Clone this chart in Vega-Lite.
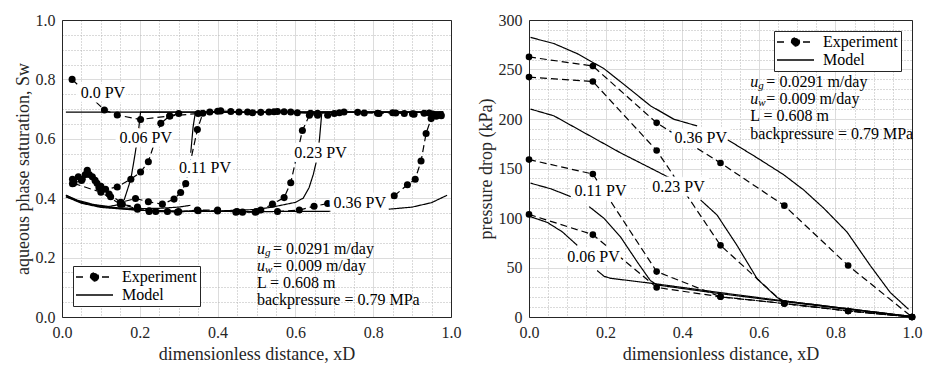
{
"$schema":"https://vega.github.io/schema/vega-lite/v6.json",
"padding":{"left":13,"top":11,"right":5,"bottom":5},
"spacing":14,
"config":{
 "font":"Liberation Serif",
 "view":{"stroke":"#262626","strokeWidth":1},
 "axis":{"labelFont":"Liberation Serif","labelFontSize":16,"labelColor":"#262626","titleFont":"Liberation Serif","titleFontSize":18,"titleFontWeight":"normal","titleColor":"#262626","domain":false,"ticks":false,"labelPadding":7,"labelFlush":false,"gridWidth":1,"gridOpacity":1,"domainColor":"#262626","domainWidth":1},
 "axisY":{"titlePadding":3},
 "axisX":{"titlePadding":5}
},
"resolve":{"scale":{"strokeDash":"independent"},"legend":{"strokeDash":"independent"}},
"datasets":{
"satLines":[
{"t":"Model","pv":"0.0","x":0.01,"y":0.69},{"t":"Model","pv":"0.0","x":0.98,"y":0.69},
{"t":"Model","pv":"0.06","x":0.01,"y":0.41},{"t":"Model","pv":"0.06","x":0.04,"y":0.393},{"t":"Model","pv":"0.06","x":0.08,"y":0.379},{"t":"Model","pv":"0.06","x":0.12,"y":0.372},{"t":"Model","pv":"0.06","x":0.145,"y":0.378},{"t":"Model","pv":"0.06","x":0.16,"y":0.395},{"t":"Model","pv":"0.06","x":0.177,"y":0.464},{"t":"Model","pv":"0.06","x":0.188,"y":0.55},{"t":"Model","pv":"0.06","x":0.196,"y":0.62},{"t":"Model","pv":"0.06","x":0.202,"y":0.69},{"t":"Model","pv":"0.06","x":0.98,"y":0.69},
{"t":"Model","pv":"0.11","s":1,"x":0.01,"y":0.405},{"t":"Model","pv":"0.11","s":1,"x":0.05,"y":0.386},{"t":"Model","pv":"0.11","s":1,"x":0.1,"y":0.373},{"t":"Model","pv":"0.11","s":1,"x":0.15,"y":0.367},{"t":"Model","pv":"0.11","s":1,"x":0.2,"y":0.365},{"t":"Model","pv":"0.11","s":1,"x":0.25,"y":0.366},{"t":"Model","pv":"0.11","s":1,"x":0.3,"y":0.37},{"t":"Model","pv":"0.11","s":1,"x":0.33,"y":0.376},
{"t":"Model","pv":"0.11","s":2,"x":0.331,"y":0.553},{"t":"Model","pv":"0.11","s":2,"x":0.337,"y":0.64},{"t":"Model","pv":"0.11","s":2,"x":0.343,"y":0.69},{"t":"Model","pv":"0.11","s":2,"x":0.98,"y":0.69},
{"t":"Model","pv":"0.23","x":0.01,"y":0.405},{"t":"Model","pv":"0.23","x":0.05,"y":0.383},{"t":"Model","pv":"0.23","x":0.1,"y":0.369},{"t":"Model","pv":"0.23","x":0.2,"y":0.359},{"t":"Model","pv":"0.23","x":0.3,"y":0.356},{"t":"Model","pv":"0.23","x":0.4,"y":0.357},{"t":"Model","pv":"0.23","x":0.5,"y":0.362},{"t":"Model","pv":"0.23","x":0.54,"y":0.37},{"t":"Model","pv":"0.23","x":0.6,"y":0.386},{"t":"Model","pv":"0.23","x":0.62,"y":0.4},{"t":"Model","pv":"0.23","x":0.635,"y":0.435},{"t":"Model","pv":"0.23","x":0.646,"y":0.48},{"t":"Model","pv":"0.23","x":0.655,"y":0.53},{"t":"Model","pv":"0.23","x":0.662,"y":0.6},{"t":"Model","pv":"0.23","x":0.668,"y":0.69},{"t":"Model","pv":"0.23","x":0.98,"y":0.69},
{"t":"Model","pv":"0.36","s":1,"x":0.01,"y":0.41},{"t":"Model","pv":"0.36","s":1,"x":0.05,"y":0.385},{"t":"Model","pv":"0.36","s":1,"x":0.1,"y":0.371},{"t":"Model","pv":"0.36","s":1,"x":0.2,"y":0.36},{"t":"Model","pv":"0.36","s":1,"x":0.3,"y":0.356},{"t":"Model","pv":"0.36","s":1,"x":0.5,"y":0.355},{"t":"Model","pv":"0.36","s":1,"x":0.69,"y":0.356},
{"t":"Model","pv":"0.36","s":2,"x":0.84,"y":0.363},{"t":"Model","pv":"0.36","s":2,"x":0.9,"y":0.37},{"t":"Model","pv":"0.36","s":2,"x":0.95,"y":0.385},{"t":"Model","pv":"0.36","s":2,"x":0.99,"y":0.41},
{"t":"Experiment","pv":"0.0","x":0.026,"y":0.8},{"t":"Experiment","pv":"0.0","x":0.109,"y":0.697},{"t":"Experiment","pv":"0.0","x":0.142,"y":0.68},{"t":"Experiment","pv":"0.0","x":0.202,"y":0.665},{"t":"Experiment","pv":"0.0","x":0.277,"y":0.677},{"t":"Experiment","pv":"0.0","x":0.35,"y":0.685},{"t":"Experiment","pv":"0.0","x":0.4,"y":0.693},{"t":"Experiment","pv":"0.0","x":0.408,"y":0.694},{"t":"Experiment","pv":"0.0","x":0.434,"y":0.692},{"t":"Experiment","pv":"0.0","x":0.455,"y":0.69},{"t":"Experiment","pv":"0.0","x":0.477,"y":0.69},{"t":"Experiment","pv":"0.0","x":0.49,"y":0.688},{"t":"Experiment","pv":"0.0","x":0.511,"y":0.689},{"t":"Experiment","pv":"0.0","x":0.532,"y":0.69},{"t":"Experiment","pv":"0.0","x":0.545,"y":0.691},{"t":"Experiment","pv":"0.0","x":0.554,"y":0.692},{"t":"Experiment","pv":"0.0","x":0.571,"y":0.691},{"t":"Experiment","pv":"0.0","x":0.588,"y":0.69},{"t":"Experiment","pv":"0.0","x":0.605,"y":0.688},{"t":"Experiment","pv":"0.0","x":0.639,"y":0.686},{"t":"Experiment","pv":"0.0","x":0.657,"y":0.686},{"t":"Experiment","pv":"0.0","x":0.713,"y":0.688},{"t":"Experiment","pv":"0.0","x":0.725,"y":0.69},{"t":"Experiment","pv":"0.0","x":0.76,"y":0.689},{"t":"Experiment","pv":"0.0","x":0.777,"y":0.687},{"t":"Experiment","pv":"0.0","x":0.811,"y":0.686},{"t":"Experiment","pv":"0.0","x":0.815,"y":0.685},{"t":"Experiment","pv":"0.0","x":0.85,"y":0.688},{"t":"Experiment","pv":"0.0","x":0.858,"y":0.687},{"t":"Experiment","pv":"0.0","x":0.88,"y":0.685},{"t":"Experiment","pv":"0.0","x":0.901,"y":0.684},{"t":"Experiment","pv":"0.0","x":0.905,"y":0.683},{"t":"Experiment","pv":"0.0","x":0.931,"y":0.686},{"t":"Experiment","pv":"0.0","x":0.944,"y":0.687},{"t":"Experiment","pv":"0.0","x":0.953,"y":0.683},{"t":"Experiment","pv":"0.0","x":0.974,"y":0.68},
{"t":"Experiment","pv":"0.06","x":0.027,"y":0.464},{"t":"Experiment","pv":"0.06","x":0.042,"y":0.472},{"t":"Experiment","pv":"0.06","x":0.052,"y":0.464},{"t":"Experiment","pv":"0.06","x":0.065,"y":0.494},{"t":"Experiment","pv":"0.06","x":0.078,"y":0.472},{"t":"Experiment","pv":"0.06","x":0.095,"y":0.436},{"t":"Experiment","pv":"0.06","x":0.112,"y":0.43},{"t":"Experiment","pv":"0.06","x":0.142,"y":0.438},{"t":"Experiment","pv":"0.06","x":0.177,"y":0.464},{"t":"Experiment","pv":"0.06","x":0.202,"y":0.488},{"t":"Experiment","pv":"0.06","x":0.222,"y":0.523},{"t":"Experiment","pv":"0.06","x":0.254,"y":0.652},{"t":"Experiment","pv":"0.06","x":0.277,"y":0.677},{"t":"Experiment","pv":"0.06","x":0.3,"y":0.685},
{"t":"Experiment","pv":"0.11","x":0.027,"y":0.449},{"t":"Experiment","pv":"0.11","x":0.05,"y":0.46},{"t":"Experiment","pv":"0.11","x":0.07,"y":0.48},{"t":"Experiment","pv":"0.11","x":0.085,"y":0.46},{"t":"Experiment","pv":"0.11","x":0.1,"y":0.44},{"t":"Experiment","pv":"0.11","x":0.121,"y":0.414},{"t":"Experiment","pv":"0.11","x":0.151,"y":0.386},{"t":"Experiment","pv":"0.11","x":0.189,"y":0.399},{"t":"Experiment","pv":"0.11","x":0.222,"y":0.388},{"t":"Experiment","pv":"0.11","x":0.258,"y":0.38},{"t":"Experiment","pv":"0.11","x":0.288,"y":0.397},{"t":"Experiment","pv":"0.11","x":0.305,"y":0.419},{"t":"Experiment","pv":"0.11","x":0.318,"y":0.449},{"t":"Experiment","pv":"0.11","x":0.348,"y":0.631},{"t":"Experiment","pv":"0.11","x":0.362,"y":0.686},{"t":"Experiment","pv":"0.11","x":0.38,"y":0.69},
{"t":"Experiment","pv":"0.23","x":0.03,"y":0.455},{"t":"Experiment","pv":"0.23","x":0.06,"y":0.48},{"t":"Experiment","pv":"0.23","x":0.09,"y":0.45},{"t":"Experiment","pv":"0.23","x":0.125,"y":0.405},{"t":"Experiment","pv":"0.23","x":0.155,"y":0.38},{"t":"Experiment","pv":"0.23","x":0.194,"y":0.363},{"t":"Experiment","pv":"0.23","x":0.224,"y":0.355},{"t":"Experiment","pv":"0.23","x":0.241,"y":0.355},{"t":"Experiment","pv":"0.23","x":0.271,"y":0.355},{"t":"Experiment","pv":"0.23","x":0.297,"y":0.353},{"t":"Experiment","pv":"0.23","x":0.348,"y":0.36},{"t":"Experiment","pv":"0.23","x":0.4,"y":0.36},{"t":"Experiment","pv":"0.23","x":0.447,"y":0.353},{"t":"Experiment","pv":"0.23","x":0.464,"y":0.353},{"t":"Experiment","pv":"0.23","x":0.497,"y":0.353},{"t":"Experiment","pv":"0.23","x":0.511,"y":0.36},{"t":"Experiment","pv":"0.23","x":0.541,"y":0.38},{"t":"Experiment","pv":"0.23","x":0.571,"y":0.402},{"t":"Experiment","pv":"0.23","x":0.588,"y":0.452},{"t":"Experiment","pv":"0.23","x":0.618,"y":0.628},{"t":"Experiment","pv":"0.23","x":0.636,"y":0.679},{"t":"Experiment","pv":"0.23","x":0.657,"y":0.679},{"t":"Experiment","pv":"0.23","x":0.683,"y":0.679},{"t":"Experiment","pv":"0.23","x":0.7,"y":0.685},
{"t":"Experiment","pv":"0.36","s":1,"x":0.03,"y":0.45},{"t":"Experiment","pv":"0.36","s":1,"x":0.1,"y":0.42},{"t":"Experiment","pv":"0.36","s":1,"x":0.15,"y":0.38},{"t":"Experiment","pv":"0.36","s":1,"x":0.194,"y":0.37},{"t":"Experiment","pv":"0.36","s":1,"x":0.224,"y":0.358},{"t":"Experiment","pv":"0.36","s":1,"x":0.3,"y":0.355},{"t":"Experiment","pv":"0.36","s":1,"x":0.35,"y":0.358},{"t":"Experiment","pv":"0.36","s":1,"x":0.4,"y":0.357},{"t":"Experiment","pv":"0.36","s":1,"x":0.45,"y":0.355},{"t":"Experiment","pv":"0.36","s":1,"x":0.5,"y":0.355},{"t":"Experiment","pv":"0.36","s":1,"x":0.554,"y":0.355},{"t":"Experiment","pv":"0.36","s":1,"x":0.61,"y":0.36},{"t":"Experiment","pv":"0.36","s":1,"x":0.648,"y":0.373},{"t":"Experiment","pv":"0.36","s":1,"x":0.683,"y":0.382},
{"t":"Experiment","pv":"0.36","s":2,"x":0.854,"y":0.408},{"t":"Experiment","pv":"0.36","s":2,"x":0.888,"y":0.445},{"t":"Experiment","pv":"0.36","s":2,"x":0.908,"y":0.464},{"t":"Experiment","pv":"0.36","s":2,"x":0.923,"y":0.525},{"t":"Experiment","pv":"0.36","s":2,"x":0.936,"y":0.618},{"t":"Experiment","pv":"0.36","s":2,"x":0.949,"y":0.668},{"t":"Experiment","pv":"0.36","s":2,"x":0.962,"y":0.676},{"t":"Experiment","pv":"0.36","s":2,"x":0.975,"y":0.678}
],
"satLabels":[
{"x":0.048,"y":0.754,"text":"0.0 PV"},{"x":0.148,"y":0.603,"text":"0.06 PV"},{"x":0.301,"y":0.503,"text":"0.11 PV"},{"x":0.597,"y":0.553,"text":"0.23 PV"},{"x":0.698,"y":0.385,"text":"0.36 PV"}
],
"satParams":[
{"x":0.501,"y":0.229,"kind":"sym","text":"u"},{"x":0.501,"y":0.229,"kind":"sub","text":"g"},{"x":0.501,"y":0.229,"kind":"main","text":"= 0.0291 m/day"},
{"x":0.501,"y":0.171,"kind":"sym","text":"u"},{"x":0.501,"y":0.171,"kind":"sub","text":"w"},{"x":0.501,"y":0.171,"kind":"main","text":"= 0.009 m/day"},
{"x":0.501,"y":0.114,"kind":"plain","text":"L = 0.608 m"},{"x":0.501,"y":0.058,"kind":"plain","text":"backpressure = 0.79 MPa"}
],
"presLines":[
{"t":"Experiment","pv":"0.06","x":0,"y":103.6},{"t":"Experiment","pv":"0.06","x":0.1667,"y":83.2},{"t":"Experiment","pv":"0.06","x":0.3333,"y":29.9},{"t":"Experiment","pv":"0.06","x":0.5,"y":20.4},{"t":"Experiment","pv":"0.06","x":0.6667,"y":13.6},{"t":"Experiment","pv":"0.06","x":0.8333,"y":6.1},{"t":"Experiment","pv":"0.06","x":1,"y":0},
{"t":"Experiment","pv":"0.11","x":0,"y":159},{"t":"Experiment","pv":"0.11","x":0.1667,"y":144.4},{"t":"Experiment","pv":"0.11","x":0.3333,"y":45.9},{"t":"Experiment","pv":"0.11","x":0.5,"y":20.4},{"t":"Experiment","pv":"0.11","x":0.6667,"y":13.6},{"t":"Experiment","pv":"0.11","x":0.8333,"y":6.1},{"t":"Experiment","pv":"0.11","x":1,"y":0},
{"t":"Experiment","pv":"0.23","x":0,"y":242.3},{"t":"Experiment","pv":"0.23","x":0.1667,"y":237.9},{"t":"Experiment","pv":"0.23","x":0.3333,"y":168.2},{"t":"Experiment","pv":"0.23","x":0.5,"y":72.4},{"t":"Experiment","pv":"0.23","x":0.6667,"y":13.6},{"t":"Experiment","pv":"0.23","x":0.8333,"y":6.1},{"t":"Experiment","pv":"0.23","x":1,"y":0},
{"t":"Experiment","pv":"0.36","x":0,"y":262.7},{"t":"Experiment","pv":"0.36","x":0.1667,"y":253.5},{"t":"Experiment","pv":"0.36","x":0.3333,"y":196.1},{"t":"Experiment","pv":"0.36","x":0.5,"y":155.6},{"t":"Experiment","pv":"0.36","x":0.6667,"y":112.5},{"t":"Experiment","pv":"0.36","x":0.8333,"y":52},{"t":"Experiment","pv":"0.36","x":1,"y":0},
{"t":"Model","pv":"0.06","s":1,"x":0.004,"y":101.3},{"t":"Model","pv":"0.06","s":1,"x":0.048,"y":95.5},{"t":"Model","pv":"0.06","s":1,"x":0.087,"y":86},{"t":"Model","pv":"0.06","s":1,"x":0.126,"y":72.4},
{"t":"Model","pv":"0.06","s":2,"x":0.178,"y":46.9},{"t":"Model","pv":"0.06","s":2,"x":0.196,"y":41.1},{"t":"Model","pv":"0.06","s":2,"x":0.213,"y":39.1},{"t":"Model","pv":"0.06","s":2,"x":0.335,"y":33.3},{"t":"Model","pv":"0.06","s":2,"x":0.5,"y":24.6},{"t":"Model","pv":"0.06","s":2,"x":0.665,"y":16.3},{"t":"Model","pv":"0.06","s":2,"x":0.83,"y":8.5},{"t":"Model","pv":"0.06","s":2,"x":1,"y":0.5},
{"t":"Model","pv":"0.11","s":1,"x":0.004,"y":135.2},{"t":"Model","pv":"0.11","s":1,"x":0.057,"y":129.5},{"t":"Model","pv":"0.11","s":1,"x":0.109,"y":121.6},
{"t":"Model","pv":"0.11","s":2,"x":0.157,"y":111.5},{"t":"Model","pv":"0.11","s":2,"x":0.196,"y":99.6},{"t":"Model","pv":"0.11","s":2,"x":0.239,"y":80.9},{"t":"Model","pv":"0.11","s":2,"x":0.283,"y":55.4},{"t":"Model","pv":"0.11","s":2,"x":0.317,"y":36.7},{"t":"Model","pv":"0.11","s":2,"x":0.335,"y":32.3},{"t":"Model","pv":"0.11","s":2,"x":0.5,"y":23.5},{"t":"Model","pv":"0.11","s":2,"x":0.665,"y":15.6},{"t":"Model","pv":"0.11","s":2,"x":0.83,"y":7.8},{"t":"Model","pv":"0.11","s":2,"x":1,"y":0.3},
{"t":"Model","pv":"0.23","s":1,"x":0.004,"y":210},{"t":"Model","pv":"0.23","s":1,"x":0.065,"y":203.2},{"t":"Model","pv":"0.23","s":1,"x":0.152,"y":184.5},{"t":"Model","pv":"0.23","s":1,"x":0.239,"y":165.8},{"t":"Model","pv":"0.23","s":1,"x":0.317,"y":150.5},{"t":"Model","pv":"0.23","s":1,"x":0.37,"y":140},
{"t":"Model","pv":"0.23","s":2,"x":0.448,"y":118.2},{"t":"Model","pv":"0.23","s":2,"x":0.491,"y":103},{"t":"Model","pv":"0.23","s":2,"x":0.543,"y":72.4},{"t":"Model","pv":"0.23","s":2,"x":0.596,"y":38.4},{"t":"Model","pv":"0.23","s":2,"x":0.648,"y":19.7},{"t":"Model","pv":"0.23","s":2,"x":0.665,"y":16.3},{"t":"Model","pv":"0.23","s":2,"x":0.83,"y":8.5},{"t":"Model","pv":"0.23","s":2,"x":1,"y":0.5},
{"t":"Model","pv":"0.36","s":1,"x":0.004,"y":282.4},{"t":"Model","pv":"0.36","s":1,"x":0.065,"y":276.2},{"t":"Model","pv":"0.36","s":1,"x":0.126,"y":266},{"t":"Model","pv":"0.36","s":1,"x":0.196,"y":250.8},{"t":"Model","pv":"0.36","s":1,"x":0.257,"y":232.1},{"t":"Model","pv":"0.36","s":1,"x":0.317,"y":213.4},{"t":"Model","pv":"0.36","s":1,"x":0.378,"y":199.8},{"t":"Model","pv":"0.36","s":1,"x":0.439,"y":193},
{"t":"Model","pv":"0.36","s":2,"x":0.517,"y":179.4},{"t":"Model","pv":"0.36","s":2,"x":0.596,"y":160.7},{"t":"Model","pv":"0.36","s":2,"x":0.665,"y":143.7},{"t":"Model","pv":"0.36","s":2,"x":0.717,"y":128.4},{"t":"Model","pv":"0.36","s":2,"x":0.77,"y":109.7},{"t":"Model","pv":"0.36","s":2,"x":0.83,"y":86},{"t":"Model","pv":"0.36","s":2,"x":0.891,"y":52},{"t":"Model","pv":"0.36","s":2,"x":0.943,"y":24.8},{"t":"Model","pv":"0.36","s":2,"x":0.991,"y":7.8}
],
"presLabels":[
{"x":0.38,"y":181,"text":"0.36 PV"},{"x":0.322,"y":131,"text":"0.23 PV"},{"x":0.119,"y":127,"text":"0.11 PV"},{"x":0.1,"y":61,"text":"0.06 PV"}
],
"presParams":[
{"x":0.578,"y":237.2,"kind":"sym","text":"u"},{"x":0.578,"y":237.2,"kind":"sub","text":"g"},{"x":0.578,"y":237.2,"kind":"main","text":"= 0.0291 m/day"},
{"x":0.578,"y":220.2,"kind":"sym","text":"u"},{"x":0.578,"y":220.2,"kind":"sub","text":"w"},{"x":0.578,"y":220.2,"kind":"main","text":"= 0.009 m/day"},
{"x":0.578,"y":203.2,"kind":"plain","text":"L = 0.608 m"},{"x":0.578,"y":185.2,"kind":"plain","text":"backpressure = 0.79 MPa"}
]
},
"hconcat":[
{
 "width":389,"height":297,
 "view":{"stroke":"#262626","strokeWidth":1},
 "resolve":{"axis":{"x":"independent","y":"independent"}},
 "layer":[
  {"data":{"name":"satLines"},
   "mark":{"type":"line","color":"black","strokeWidth":1.2,"clip":false},
   "encoding":{
    "x":{"field":"x","type":"quantitative","scale":{"domain":[0,1]},
     "axis":{"orient":"bottom","values":[0.05,0.1,0.15,0.25,0.3,0.35,0.45,0.5,0.55,0.65,0.7,0.75,0.85,0.9,0.95],"grid":true,"gridDash":[1,2],"gridColor":"#b4b4b4","labels":false,"ticks":false,"domain":false,"title":null}},
    "y":{"field":"y","type":"quantitative","scale":{"domain":[0,1]},
     "axis":{"orient":"left","values":[0.05,0.1,0.15,0.25,0.3,0.35,0.45,0.5,0.55,0.65,0.7,0.75,0.85,0.9,0.95],"grid":true,"gridDash":[1,2],"gridColor":"#b4b4b4","labels":false,"ticks":false,"domain":false,"title":null}},
    "detail":[{"field":"pv"},{"field":"s"}],
    "strokeDash":{"field":"t","type":"nominal","scale":{"domain":["Experiment","Model"],"range":[[7,4],[1,0]]},
     "legend":{"title":null,"orient":"bottom-left","offset":11,"padding":3,"fillColor":"white","strokeColor":"#262626","labelFont":"Liberation Serif","labelFontSize":16,"labelColor":"#000","labelOffset":30,"symbolSize":100,"symbolStrokeWidth":1.3,"symbolStrokeColor":"black","symbolFillColor":"black","rowPadding":2,
      "encode":{"symbols":{"update":{"x":{"value":18.5},"shape":{"signal":"datum.value == 'Experiment' ? 'M-3.7,0H-1.6M1.5,0H3.7M0.8,0A0.8,0.8,0,1,1,-0.8,0A0.8,0.8,0,1,1,0.8,0Z' : 'M-3.7,0H3.7'"},"strokeDash":{"value":[1,0]},"fill":{"value":"black"},"stroke":{"value":"black"}}}}}}
   }},
  {"data":{"name":"satLines"},"transform":[{"filter":"datum.t === 'Experiment'"}],
   "mark":{"type":"circle","size":50,"color":"black","opacity":1,"clip":false},
   "encoding":{
    "x":{"field":"x","type":"quantitative","axis":{"orient":"bottom","values":[0,0.2,0.4,0.6,0.8,1],"format":".1f","grid":true,"gridColor":"#dcdcdc","domain":true,"title":"dimensionless distance, xD"}},
    "y":{"field":"y","type":"quantitative","axis":{"orient":"left","values":[0,0.2,0.4,0.6,0.8,1],"format":".1f","grid":true,"gridColor":"#dcdcdc","domain":true,"title":"aqueous phase saturation, Sw"}}}},
  {"data":{"name":"satLabels"},
   "mark":{"type":"text","align":"left","baseline":"middle","font":"Liberation Serif","fontSize":16,"fill":"white","stroke":"white","strokeWidth":9,"strokeJoin":"round"},
   "encoding":{"x":{"field":"x","type":"quantitative","axis":{"orient":"top","labels":false,"ticks":false,"grid":false,"domain":true,"title":null}},"y":{"field":"y","type":"quantitative","axis":{"orient":"right","labels":false,"ticks":false,"grid":false,"domain":true,"title":null}},"text":{"field":"text"}}},
  {"data":{"name":"satLabels"},
   "mark":{"type":"text","align":"left","baseline":"middle","font":"Liberation Serif","fontSize":16,"color":"#000"},
   "encoding":{"x":{"field":"x","type":"quantitative","axis":null},"y":{"field":"y","type":"quantitative","axis":null},"text":{"field":"text"}}},
  {"data":{"name":"satParams"},"transform":[{"filter":"datum.kind === 'sym'"}],
   "mark":{"type":"text","align":"left","baseline":"middle","font":"Liberation Serif","fontSize":16,"fontStyle":"italic","color":"#000"},
   "encoding":{"x":{"field":"x","type":"quantitative","axis":null},"y":{"field":"y","type":"quantitative","axis":null},"text":{"field":"text"}}},
  {"data":{"name":"satParams"},"transform":[{"filter":"datum.kind === 'sub'"}],
   "mark":{"type":"text","align":"left","baseline":"middle","font":"Liberation Serif","fontSize":11,"fontStyle":"italic","color":"#000","dx":8,"dy":4},
   "encoding":{"x":{"field":"x","type":"quantitative","axis":null},"y":{"field":"y","type":"quantitative","axis":null},"text":{"field":"text"}}},
  {"data":{"name":"satParams"},"transform":[{"filter":"datum.kind === 'main'"}],
   "mark":{"type":"text","align":"left","baseline":"middle","font":"Liberation Serif","fontSize":16,"color":"#000","dx":16},
   "encoding":{"x":{"field":"x","type":"quantitative","axis":null},"y":{"field":"y","type":"quantitative","axis":null},"text":{"field":"text"}}},
  {"data":{"name":"satParams"},"transform":[{"filter":"datum.kind === 'plain'"}],
   "mark":{"type":"text","align":"left","baseline":"middle","font":"Liberation Serif","fontSize":16,"color":"#000"},
   "encoding":{"x":{"field":"x","type":"quantitative","axis":null},"y":{"field":"y","type":"quantitative","axis":null},"text":{"field":"text"}}}
 ]
},
{
 "width":383,"height":297,
 "view":{"stroke":"#262626","strokeWidth":1},
 "resolve":{"axis":{"x":"independent","y":"independent"}},
 "layer":[
  {"data":{"name":"presLines"},
   "mark":{"type":"line","color":"black","strokeWidth":1.2,"clip":false},
   "encoding":{
    "x":{"field":"x","type":"quantitative","scale":{"domain":[0,1]},
     "axis":{"orient":"bottom","values":[0.05,0.1,0.15,0.25,0.3,0.35,0.45,0.5,0.55,0.65,0.7,0.75,0.85,0.9,0.95],"grid":true,"gridDash":[1,2],"gridColor":"#b4b4b4","labels":false,"ticks":false,"domain":false,"title":null}},
    "y":{"field":"y","type":"quantitative","scale":{"domain":[0,300]},
     "axis":{"orient":"left","values":[10,20,30,40,60,70,80,90,110,120,130,140,160,170,180,190,210,220,230,240,260,270,280,290],"grid":true,"gridDash":[1,2],"gridColor":"#b4b4b4","labels":false,"ticks":false,"domain":false,"title":null}},
    "detail":[{"field":"pv"},{"field":"s"}],
    "strokeDash":{"field":"t","type":"nominal","scale":{"domain":["Experiment","Model"],"range":[[7,4],[1,0]]},
     "legend":{"title":null,"orient":"top-right","offset":11,"padding":3,"fillColor":"white","strokeColor":"#262626","labelFont":"Liberation Serif","labelFontSize":16,"labelColor":"#000","labelOffset":30,"symbolSize":100,"symbolStrokeWidth":1.3,"symbolStrokeColor":"black","symbolFillColor":"black","rowPadding":2,
      "encode":{"symbols":{"update":{"x":{"value":18.5},"shape":{"signal":"datum.value == 'Experiment' ? 'M-3.7,0H-1.6M1.5,0H3.7M0.8,0A0.8,0.8,0,1,1,-0.8,0A0.8,0.8,0,1,1,0.8,0Z' : 'M-3.7,0H3.7'"},"strokeDash":{"value":[1,0]},"fill":{"value":"black"},"stroke":{"value":"black"}}}}}}
   }},
  {"data":{"name":"presLines"},"transform":[{"filter":"datum.t === 'Experiment'"}],
   "mark":{"type":"circle","size":44,"color":"black","opacity":1,"clip":false},
   "encoding":{
    "x":{"field":"x","type":"quantitative","axis":{"orient":"bottom","values":[0,0.2,0.4,0.6,0.8,1],"format":".1f","grid":true,"gridColor":"#dcdcdc","domain":true,"title":"dimensionless distance, xD"}},
    "y":{"field":"y","type":"quantitative","axis":{"orient":"left","values":[0,50,100,150,200,250,300],"format":"d","grid":true,"gridColor":"#dcdcdc","domain":true,"title":"pressure drop (kPa)"}}}},
  {"data":{"name":"presLabels"},
   "mark":{"type":"text","align":"left","baseline":"middle","font":"Liberation Serif","fontSize":16,"fill":"white","stroke":"white","strokeWidth":9,"strokeJoin":"round"},
   "encoding":{"x":{"field":"x","type":"quantitative","axis":{"orient":"top","labels":false,"ticks":false,"grid":false,"domain":true,"title":null}},"y":{"field":"y","type":"quantitative","axis":{"orient":"right","labels":false,"ticks":false,"grid":false,"domain":true,"title":null}},"text":{"field":"text"}}},
  {"data":{"name":"presLabels"},
   "mark":{"type":"text","align":"left","baseline":"middle","font":"Liberation Serif","fontSize":16,"color":"#000"},
   "encoding":{"x":{"field":"x","type":"quantitative","axis":null},"y":{"field":"y","type":"quantitative","axis":null},"text":{"field":"text"}}},
  {"data":{"name":"presParams"},"transform":[{"filter":"datum.kind === 'sym'"}],
   "mark":{"type":"text","align":"left","baseline":"middle","font":"Liberation Serif","fontSize":16,"fontStyle":"italic","color":"#000"},
   "encoding":{"x":{"field":"x","type":"quantitative","axis":null},"y":{"field":"y","type":"quantitative","axis":null},"text":{"field":"text"}}},
  {"data":{"name":"presParams"},"transform":[{"filter":"datum.kind === 'sub'"}],
   "mark":{"type":"text","align":"left","baseline":"middle","font":"Liberation Serif","fontSize":11,"fontStyle":"italic","color":"#000","dx":8,"dy":4},
   "encoding":{"x":{"field":"x","type":"quantitative","axis":null},"y":{"field":"y","type":"quantitative","axis":null},"text":{"field":"text"}}},
  {"data":{"name":"presParams"},"transform":[{"filter":"datum.kind === 'main'"}],
   "mark":{"type":"text","align":"left","baseline":"middle","font":"Liberation Serif","fontSize":16,"color":"#000","dx":16},
   "encoding":{"x":{"field":"x","type":"quantitative","axis":null},"y":{"field":"y","type":"quantitative","axis":null},"text":{"field":"text"}}},
  {"data":{"name":"presParams"},"transform":[{"filter":"datum.kind === 'plain'"}],
   "mark":{"type":"text","align":"left","baseline":"middle","font":"Liberation Serif","fontSize":16,"color":"#000"},
   "encoding":{"x":{"field":"x","type":"quantitative","axis":null},"y":{"field":"y","type":"quantitative","axis":null},"text":{"field":"text"}}}
 ]
}
]
}
